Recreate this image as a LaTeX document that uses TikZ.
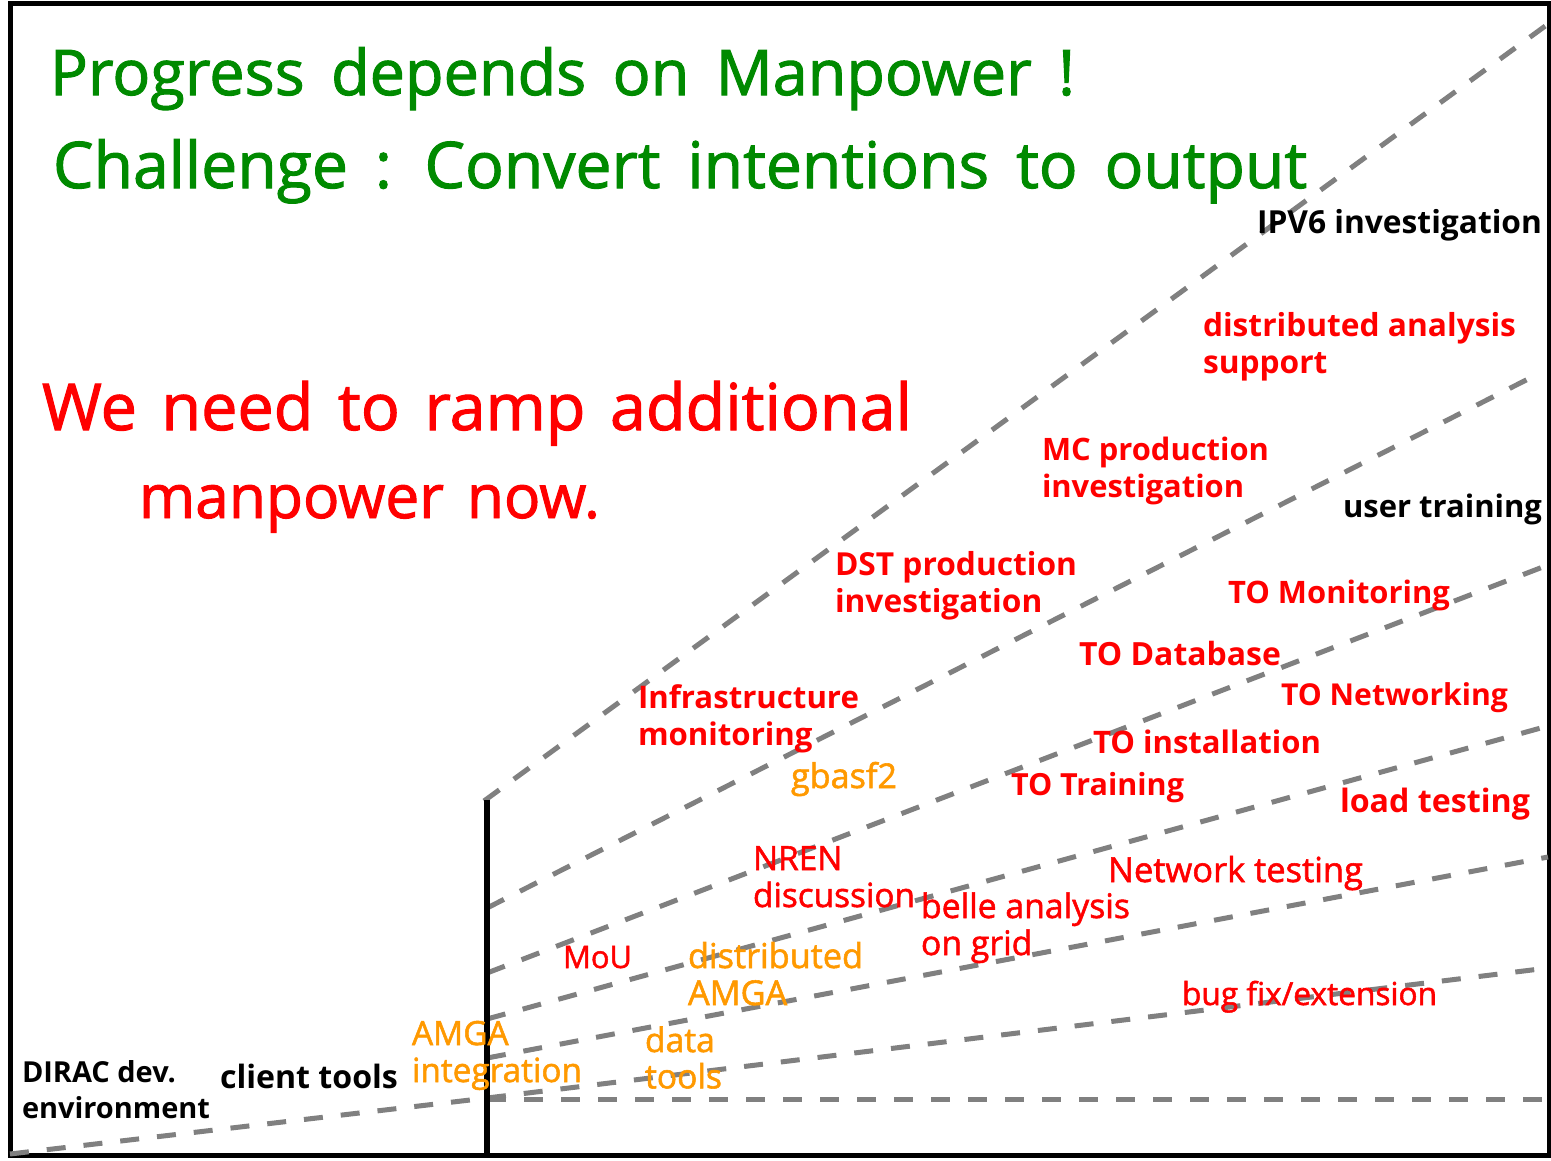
\documentclass[tikz,border=0pt]{standalone}
\usepackage{fontspec}
\setmainfont{Open Sans}
\newfontfamily\semib[FakeBold=1.6]{Open Sans}
\definecolor{ttgreen}{RGB}{0,138,0}
\definecolor{ttred}{RGB}{255,0,0}
\definecolor{ttorange}{RGB}{255,153,0}
\definecolor{ttgray}{RGB}{128,128,128}
\newlength\fitlen
% #1 extra setup (e.g. word space), #2 target width (pt), #3 widest line, #4 baselineskip
\newcommand\fitfont[4][]{%
  \settowidth\fitlen{\fontsize{10pt}{12pt}\selectfont#1#3}%
  \pgfmathsetmacro\fitfs{#2/\fitlen*10}%
  \fontsize{\fitfs pt}{#4pt}\selectfont#1}
\newcommand\ml[1]{\begin{tabular}[t]{@{}l@{}}#1\end{tabular}}
\begin{document}
\begin{tikzpicture}[x=1pt,y=-1pt,
  lab/.style={anchor=base west, inner sep=0pt, outer sep=0pt},
  fan/.style={draw=ttgray, line width=5pt, dash pattern=on 19pt off 18pt},
  frame/.style={draw=black, line width=5pt},
  pole/.style={draw=black, line width=5.5pt}]
\useasboundingbox (0,0) rectangle (1551,1160);
\fill[white] (0,0) rectangle (1551,1160);
\draw[frame] (10,3.5) rectangle (1549.5,1155.5);

% fan coordinates
\coordinate (o) at (10,1154);
\coordinate (s1) at (484,801);
\coordinate (s2) at (487,908);
\coordinate (s3) at (487,973);
\coordinate (s4) at (487,1019);
\coordinate (s5) at (487,1058);
\coordinate (s6) at (487,1098);
\coordinate (s7) at (487,1099);
\coordinate (e1) at (1548,24);
\coordinate (e2) at (1536,375);
\coordinate (e3) at (1548,565);
\coordinate (e4) at (1548,726);
\coordinate (e5) at (1548,857);
\coordinate (e6) at (1548,968);
\coordinate (e7) at (1551,1099);
\coordinate (vtop) at (487,800);
\coordinate (vbot) at (487,1155);

\draw[fan] (s1) -- (e1);
\draw[fan] (s2) -- (e2);
\draw[fan] (s3) -- (e3);
\draw[fan] (s4) -- (e4);
\draw[fan] (s5) -- (e5);
\draw[fan] (s6) -- (e6);
\draw[fan] (o) -- (s6);
\draw[fan] (s7) -- (e7);
\draw[pole] (vtop) -- (vbot);

% titles
\node[lab, text=ttgreen, font={\semib\fitfont[\spaceskip=.42em\relax]{1025}{Progress depends on Manpower !}{80}}] (title1) at (50,95) {Progress depends on Manpower !};
\node[lab, text=ttgreen, font={\semib\fitfont[\spaceskip=.42em\relax]{1254}{Challenge : Convert intentions to output}{80}}] (title2) at (53,188) {Challenge : Convert intentions to output};
\node[lab, text=ttred, font={\semib\fitfont[\spaceskip=.38em\relax]{870}{We need to ramp additional}{80}}] (need1) at (42,430) {We need to ramp additional};
\node[lab, text=ttred, font={\semib\fitfont[\spaceskip=.38em\relax]{461}{manpower now.}{80}}] (need2) at (139,518) {manpower now.};

% labels
\node[lab, text=black, font={\bfseries\fitfont{285}{IPV6 investigation}{37}}] (ipv6) at (1257,233) {IPV6 investigation};
\node[lab, text=ttred, font={\bfseries\fitfont{313}{distributed analysis}{37}}] (dana) at (1203,336) {\ml{distributed analysis\\support}};
\node[lab, text=ttred, font={\bfseries\fitfont{227}{MC production}{37}}] (mcp) at (1042,460) {\ml{MC production\\investigation}};
\node[lab, text=black, font={\bfseries\fitfont{199}{user training}{37}}] (usertr) at (1343,517) {user training};
\node[lab, text=ttred, font={\bfseries\fitfont{242}{DST production}{37}}] (dst) at (835,575) {\ml{DST production\\investigation}};
\node[lab, text=ttred, font={\bfseries\fitfont{222}{TO Monitoring}{37}}] (tomon) at (1228,603) {TO Monitoring};
\node[lab, text=ttred, font={\bfseries\fitfont{202}{TO Database}{37}}] (todb) at (1079,665) {TO Database};
\node[lab, text=ttred, font={\bfseries\fitfont{227}{TO Networking}{37}}] (tonet) at (1281,705) {TO Networking};
\node[lab, text=ttred, font={\bfseries\fitfont{228}{TO installation}{37}}] (toinst) at (1093,753) {TO installation};
\node[lab, text=ttred, font={\bfseries\fitfont{173}{TO Training}{37}}] (totr) at (1011,795) {TO Training};
\node[lab, text=ttred, font={\bfseries\fitfont{190}{load testing}{37}}] (load) at (1340,812) {load testing};
\node[lab, text=ttred, font={\bfseries\fitfont{221}{Infrastructure}{37}}] (infra) at (638,708) {\ml{Infrastructure\\monitoring}};
\node[lab, text=ttorange, font={\semib\fitfont{106}{gbasf2}{37}}] (gbasf) at (791,788) {gbasf2};
\node[lab, text=ttred, font={\semib\fitfont{162}{discussion}{37}}] (nren) at (753,870) {\ml{NREN\\discussion}};
\node[lab, text=ttred, font={\semib\fitfont{209}{belle analysis}{37}}] (belle) at (921,918) {\ml{belle analysis\\on grid}};
\node[lab, text=ttred, font={\semib\fitfont{255}{Network testing}{37}}] (nettest) at (1108,882) {Network testing};
\node[lab, text=ttred, font={\semib\fitfont{255}{bug fix/extension}{37}}] (bugfix) at (1182,1005) {bug fix/extension};
\node[lab, text=ttred, font={\semib\fitfont{69}{MoU}{37}}] (mou) at (563,968) {MoU};
\node[lab, text=ttorange, font={\semib\fitfont{175}{distributed}{37}}] (damga) at (688,968) {\ml{distributed\\AMGA}};
\node[lab, text=ttorange, font={\semib\fitfont{77}{tools}{36}}] (dtools) at (645,1052) {\ml{data\\tools}};
\node[lab, text=ttorange, font={\semib\fitfont{170}{integration}{37}}] (amgai) at (412,1045) {\ml{AMGA\\integration}};
\node[lab, text=black, font={\bfseries\fitfont{178}{client tools}{37}}] (client) at (220,1088) {client tools};
\node[lab, text=black, font={\bfseries\fitfont{188}{environment}{36}}] (dirac) at (22,1082) {\ml{DIRAC dev.\\environment}};
\end{tikzpicture}
\end{document}
